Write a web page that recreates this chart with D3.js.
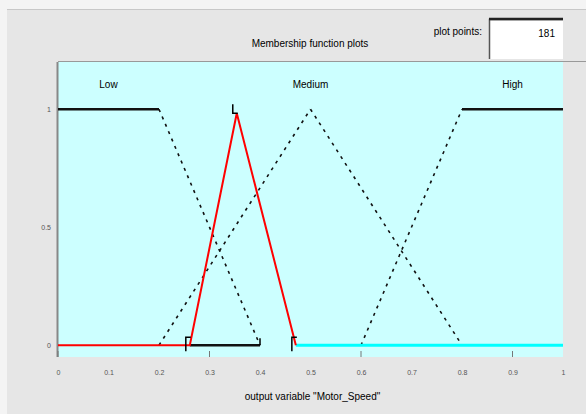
<!DOCTYPE html>
<html lang="en">
  <head>
    <meta charset="utf-8">
    <title>Membership function plots</title>
    <script src="https://d3js.org/d3.v7.min.js"></script>
    <style media="screen" type="text/css">
      html, body { margin: 0; padding: 0; background: #fff; }
      svg { display: block; font-family: "Liberation Sans", Arial, sans-serif; }
    </style>
  </head>
  <body>
    <div id="main"></div>
    <script type="text/javascript">
      // Data
      const xTicks = [0, 0.1, 0.2, 0.3, 0.4, 0.5, 0.6, 0.7, 0.8, 0.9, 1];
      const xTickMarks = [0, 0.3, 0.6, 0.9];
      const yTicks = [0, 0.5, 1];
      const mfNames = ['Low', 'Medium', 'High'];
      const mfLabelX = [0.1, 0.5, 0.9];
      const lowMF = [[0, 1], [0.2, 1], [0.4, 0]];
      const mediumMF = [[0.2, 0], [0.5, 1], [0.8, 0]];
      const highMF = [[0.6, 0], [0.8, 1], [1, 1]];
      const selectedMF = [[0, 0], [0.261, 0], [0.354, 0.983], [0.471, 0]];
      const zeroBlack = [[0.261, 0], [0.4, 0]];
      const zeroCyan = [[0.471, 0], [1, 0]];
      const handles = [[0.261, 0], [0.354, 0.983], [0.471, 0]];
      const plotPoints = 181;
      const xLabel = 'output variable "Motor_Speed"';

      // View
      const W = 586, H = 414;
      const svg = d3.select('#main').append('svg')
        .attr('width', W).attr('height', H);

      // window background
      svg.append('rect').attr('width', W).attr('height', H).attr('fill', '#f4f4f4');
      svg.append('rect').attr('x', 7).attr('y', 9).attr('width', W - 7).attr('height', H - 9)
        .attr('fill', '#e6e6e6');
      svg.append('line').attr('x1', 7).attr('x2', W).attr('y1', 9.5).attr('y2', 9.5)
        .attr('stroke', '#c8c8c8');

      const x = d3.scaleLinear().domain([0, 1]).range([58, 563]);
      const y = d3.scaleLinear().domain([-0.05, 1.2]).range([357, 62]);

      // plot area
      svg.append('rect')
        .attr('x', x(0)).attr('y', y(1.2))
        .attr('width', x(1) - x(0)).attr('height', y(-0.05) - y(1.2))
        .attr('fill', '#ccffff');
      svg.append('line').attr('x1', x(0)).attr('x2', W).attr('y1', y(1.2) - 0.5).attr('y2', y(1.2) - 0.5)
        .attr('stroke', '#999');
      svg.append('line').attr('x1', x(0) - 0.5).attr('x2', x(0) - 0.5).attr('y1', y(1.2)).attr('y2', y(-0.05))
        .attr('stroke', '#888').attr('stroke-width', 2);

      // axes
      const xAxis = d3.axisBottom(x).tickValues(xTicks).tickSize(0).tickPadding(13)
        .tickFormat(d3.format('~g'));
      const gx = svg.append('g').attr('transform', `translate(0,${y(-0.05)})`).call(xAxis);
      gx.select('.domain').remove();
      gx.selectAll('text').attr('fill', '#555').style('font-size', '7px');

      const yAxis = d3.axisLeft(y).tickValues(yTicks).tickSize(0).tickPadding(7)
        .tickFormat(d3.format('~g'));
      const gy = svg.append('g').attr('transform', `translate(${x(0)},0)`).call(yAxis);
      gy.select('.domain').remove();
      gy.selectAll('text').attr('fill', '#555').style('font-size', '7px');

      svg.append('g').selectAll('line').data(xTickMarks).join('line')
        .attr('x1', d => x(d)).attr('x2', d => x(d))
        .attr('y1', y(-0.05)).attr('y2', y(-0.05) - 6)
        .attr('stroke', '#777');

      const line = d3.line().x(d => x(d[0])).y(d => y(d[1]));

      // unselected membership functions: flat parts solid, slopes dashed
      function drawMF(points) {
        d3.pairs(points).forEach(([a, b]) => {
          const flat = a[1] === b[1];
          svg.append('path').datum([a, b])
            .attr('d', line)
            .attr('fill', 'none')
            .attr('stroke', '#111')
            .attr('stroke-width', flat ? 2.5 : 1.6)
            .attr('stroke-dasharray', flat ? null : '3,5');
        });
      }
      [lowMF, mediumMF, highMF].forEach(drawMF);

      svg.append('path').datum(zeroCyan).attr('d', line)
        .attr('fill', 'none').attr('stroke', '#00ffff').attr('stroke-width', 3);
      svg.append('path').datum(zeroBlack).attr('d', line)
        .attr('fill', 'none').attr('stroke', '#111').attr('stroke-width', 2.5);
      svg.append('path').datum(selectedMF).attr('d', line)
        .attr('fill', 'none').attr('stroke', '#ff0000').attr('stroke-width', 2);

      // vertex handles
      svg.append('g').selectAll('path').data(handles).join('path')
        .attr('d', d => {
          const px = x(d[0]) - 4, py = y(d[1]);
          return d[1] > 0.5
            ? `M${px},${py - 9}V${py}H${px + 5}`
            : `M${px},${py + 6}V${py - 8}H${px + 5}`;
        })
        .attr('fill', 'none').attr('stroke', '#000').attr('stroke-width', 1.5);
      svg.append('path')
        .attr('d', `M${x(zeroBlack[1][0])},${y(0) - 7}V${y(0)}`)
        .attr('stroke', '#000').attr('stroke-width', 1.5);

      // MF names
      svg.append('g').selectAll('text').data(mfNames).join('text')
        .attr('x', (d, i) => x(mfLabelX[i]))
        .attr('y', y(1.09))
        .attr('text-anchor', 'middle')
        .style('font-size', '10px')
        .attr('fill', '#000')
        .text(d => d);

      // titles
      svg.append('text').attr('x', 310).attr('y', 47).attr('text-anchor', 'middle')
        .style('font-size', '10px').text('Membership function plots');
      svg.append('text').attr('x', x(0.5) + 2).attr('y', 400).attr('text-anchor', 'middle')
        .style('font-size', '10px').text(xLabel);

      // plot points box
      svg.append('text').attr('x', 482).attr('y', 35).attr('text-anchor', 'end')
        .style('font-size', '10px').text('plot points:');
      svg.append('rect').attr('x', 489).attr('y', 19).attr('width', 74).attr('height', 40)
        .attr('fill', '#fff');
      svg.append('path').attr('d', 'M489.5,59V19.5H563')
        .attr('fill', 'none').attr('stroke', '#555').attr('stroke-width', 1.5);
      svg.append('line').attr('x1', 489).attr('x2', 563).attr('y1', 19).attr('y2', 19)
        .attr('stroke', '#222').attr('stroke-width', 2.5);
      svg.append('text').attr('x', 555).attr('y', 37).attr('text-anchor', 'end')
        .style('font-size', '10px').text(plotPoints);
    </script>
  </body>
</html>
